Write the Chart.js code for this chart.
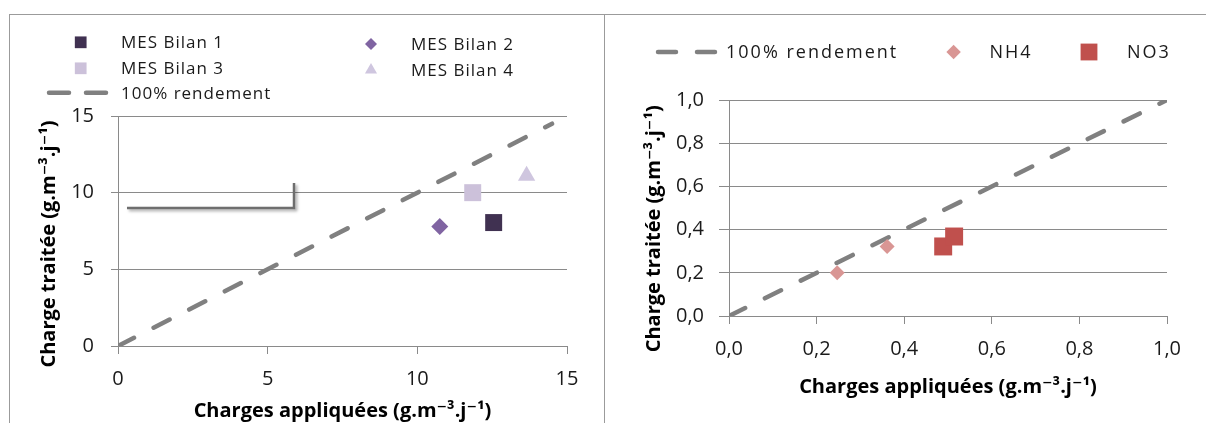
<!DOCTYPE html>
<html lang="fr">
<head>
<meta charset="utf-8">
<script src="https://cdn.jsdelivr.net/npm/chart.js@4.4.1/dist/chart.umd.min.js"></script>
<style>
  html, body { margin: 0; padding: 0; background: #fff; }
  body { width: 1206px; height: 423px; position: relative; overflow: hidden; }
  .frame { position: absolute; top: 14px; height: 408px; border-top: 1px solid #9b9b9b; border-left: 1px solid #9b9b9b; }
  #leftFrame { left: 9px; width: 594px; }
  #rightFrame { left: 604px; width: 601px; }
  canvas { display: block; }
</style>
</head>
<body>
<div class="frame" id="leftFrame"><canvas id="chartMes"></canvas></div>
<div class="frame" id="rightFrame"><canvas id="chartAzote"></canvas></div>
<script>
// MES bilans (left chart)
const mesLabels = ['MES Bilan 1', 'MES Bilan 2', 'MES Bilan 3', 'MES Bilan 4'];
const mesApplied = [12.55, 10.75, 11.85, 13.65];
const mesTreated = [8.05, 7.8, 10.0, 11.1];
const mesTicks = ['0', '5', '10', '15'];
const mesRendement = [0, 14.5];
// stray connector drawn on the original picture
const connectorX = [0.3, 5.88, 5.88];
const connectorY = [9.0, 9.0, 10.63];

// azote (right chart)
const nh4Applied = [0.247, 0.361];
const nh4Treated = [0.200, 0.322];
const no3Applied = [0.489, 0.514];
const no3Treated = [0.322, 0.368];
const azoteTicks = ['0,0', '0,2', '0,4', '0,6', '0,8', '1,0'];
const azoteRendement = [0, 1];

const rendementLabel = '100% rendement';
const xTitle = 'Charges appliquées (g.m⁻³.j⁻¹)';
const yTitle = 'Charge traitée (g.m⁻³.j⁻¹)';

// styles
const mesColors = ['#403151', '#8064A2', '#CCC1DA', '#CFC6DF'];
const mesShapes = ['rect', 'rectRot', 'rect', 'triangle'];
const mesSizes = [12, 8.5, 12, 10];
const gridColor = '#8a8a8a';
const dashColor = '#808080';
const textColor = '#1a1a1a';
const family = '"Open Sans", "DejaVu Sans", sans-serif';

Chart.defaults.font.family = family;

const toPoints = (xs, ys) => xs.map((x, i) => ({ x: x, y: ys[i] }));

// draws a drop shadow under datasets flagged with shadow: true
const shadowPlugin = {
    id: 'dsShadow',
    beforeDatasetDraw(chart, args) {
        if (!chart.data.datasets[args.index].shadow) return;
        const ctx = chart.ctx;
        ctx.save();
        ctx.shadowColor = 'rgba(0,0,0,0.35)';
        ctx.shadowOffsetX = 2;
        ctx.shadowOffsetY = 2;
        ctx.shadowBlur = 3;
    },
    afterDatasetDraw(chart, args) {
        if (chart.data.datasets[args.index].shadow) chart.ctx.restore();
    }
};

// legend with items placed like the Excel original
const placedLegend = {
    id: 'placedLegend',
    afterDraw(chart, args, opts) {
        if (!opts.items) return;
        const ctx = chart.ctx;
        ctx.save();
        ctx.font = opts.font;
        if ('letterSpacing' in ctx) ctx.letterSpacing = opts.letterSpacing || '0px';
        ctx.textBaseline = 'middle';
        opts.items.forEach(item => {
            const ds = chart.data.datasets[item.dataset];
            if (ds.showLine) {
                ctx.save();
                ctx.strokeStyle = ds.borderColor;
                ctx.lineWidth = ds.borderWidth;
                ctx.lineCap = 'round';
                ctx.setLineDash(opts.lineDash);
                ctx.beginPath();
                ctx.moveTo(item.x, item.y);
                ctx.lineTo(item.x + opts.lineLength, item.y);
                ctx.stroke();
                ctx.restore();
            } else {
                ctx.fillStyle = ds.backgroundColor;
                Chart.helpers.drawPoint(ctx, {
                    pointStyle: ds.pointStyle, radius: item.r, borderWidth: 0, rotation: 0
                }, item.x, item.y);
            }
            ctx.fillStyle = opts.color;
            ctx.fillText(ds.label, item.textX, item.y + 1);
        });
        ctx.restore();
    }
};

const dashLine = (label, xs) => ({
    label: label,
    data: toPoints(xs, xs),
    showLine: true,
    borderColor: dashColor,
    borderWidth: 4.5,
    borderDash: [18, 22],
    borderCapStyle: 'round',
    pointRadius: 0,
    fill: false
});

const axisTitle = (text, padding) => ({
    display: true,
    text: text,
    color: '#000',
    font: { size: 20, weight: 'bold' },
    padding: padding
});

const makeScales = (cfg) => ({
    x: {
        type: 'linear', min: cfg.min, max: cfg.max,
        ticks: {
            stepSize: cfg.step, padding: 13, color: textColor,
            font: { size: 20 },
            callback: (v, i) => cfg.ticks[i]
        },
        grid: { drawOnChartArea: false, drawTicks: true, tickLength: 8, color: gridColor },
        border: { color: gridColor },
        title: axisTitle(xTitle, { top: 0, bottom: cfg.xTitleBottom }),
        afterFit: s => { s.height = cfg.xHeight; }
    },
    y: {
        type: 'linear', min: cfg.min, max: cfg.max,
        ticks: {
            stepSize: cfg.step, padding: cfg.yTickPad, color: textColor,
            font: { size: 20 },
            callback: (v, i) => cfg.ticks[i]
        },
        grid: { color: gridColor, tickLength: cfg.yTickLen },
        border: { color: gridColor },
        // trailing spaces push the rotated title down, as in the original
        title: axisTitle(yTitle + ' '.repeat(cfg.yTitleShift), { top: cfg.yTitleTop, bottom: 0 }),
        afterFit: s => { s.width = cfg.yWidth; }
    }
});

// left chart: MES
const mesDatasets = mesLabels.map((label, i) => ({
    label: label,
    data: [{ x: mesApplied[i], y: mesTreated[i] }],
    pointStyle: mesShapes[i],
    pointRadius: mesSizes[i],
    backgroundColor: mesColors[i],
    borderColor: mesColors[i],
    borderWidth: 0
}));
mesDatasets.push(dashLine(rendementLabel, mesRendement));
mesDatasets.push({
    label: 'connector',
    data: toPoints(connectorX, connectorY),
    showLine: true,
    shadow: true,
    borderColor: '#6e6e6e',
    borderWidth: 2.5,
    pointRadius: 0,
    fill: false
});

new Chart(document.getElementById('chartMes'), {
    type: 'scatter',
    data: { datasets: mesDatasets },
    plugins: [shadowPlugin, placedLegend],
    options: {
        responsive: true,
        maintainAspectRatio: false,
        animation: false,
        events: [],
        layout: { padding: { left: 0, top: 101, right: 37, bottom: 0 } },
        plugins: {
            legend: { display: false },
            tooltip: { enabled: false },
            placedLegend: {
                font: '17px ' + family,
                letterSpacing: '1px',
                color: textColor,
                lineDash: [20, 17],
                lineLength: 57,
                items: [
                    { dataset: 0, x: 70.7, y: 27.3, r: 8.3, textX: 111 },
                    { dataset: 1, x: 361, y: 29, r: 6, textX: 401 },
                    { dataset: 2, x: 70.7, y: 53.3, r: 8.3, textX: 111 },
                    { dataset: 3, x: 361, y: 55, r: 7, textX: 401 },
                    { dataset: 4, x: 39, y: 77.7, textX: 111 }
                ]
            }
        },
        scales: makeScales({
            min: 0, max: 15, step: 5, ticks: mesTicks,
            xHeight: 77, xTitleBottom: 0,
            yWidth: 108, yTickLen: 7, yTickPad: 17, yTitleTop: 27, yTitleShift: 5
        })
    }
});

// right chart: NH4 / NO3
const azoteDatasets = [
    {
        label: 'NH4',
        data: toPoints(nh4Applied, nh4Treated),
        pointStyle: 'rectRot',
        pointRadius: 7.5,
        backgroundColor: '#D99694',
        borderWidth: 0
    },
    {
        label: 'NO3',
        data: toPoints(no3Applied, no3Treated),
        pointStyle: 'rect',
        pointRadius: 12.7,
        backgroundColor: '#C0504D',
        borderWidth: 0
    },
    dashLine(rendementLabel, azoteRendement)
];

new Chart(document.getElementById('chartAzote'), {
    type: 'scatter',
    data: { datasets: azoteDatasets },
    plugins: [placedLegend],
    options: {
        responsive: true,
        maintainAspectRatio: false,
        animation: false,
        events: [],
        layout: { padding: { left: 0, top: 85, right: 39, bottom: 0 } },
        plugins: {
            legend: { display: false },
            tooltip: { enabled: false },
            placedLegend: {
                font: '18px ' + family,
                letterSpacing: '2px',
                color: textColor,
                lineDash: [18, 21],
                lineLength: 57,
                items: [
                    { dataset: 2, x: 53, y: 37, textX: 121 },
                    { dataset: 0, x: 348.6, y: 37, r: 7.2, textX: 384.5 },
                    { dataset: 1, x: 484, y: 37, r: 11.9, textX: 522 }
                ]
            }
        },
        scales: makeScales({
            min: 0, max: 1, step: 0.2, ticks: azoteTicks,
            xHeight: 107, xTitleBottom: 24,
            yWidth: 124, yTickLen: 10, yTickPad: 15, yTitleTop: 37, yTitleShift: 8
        })
    }
});
</script>
</body>
</html>
